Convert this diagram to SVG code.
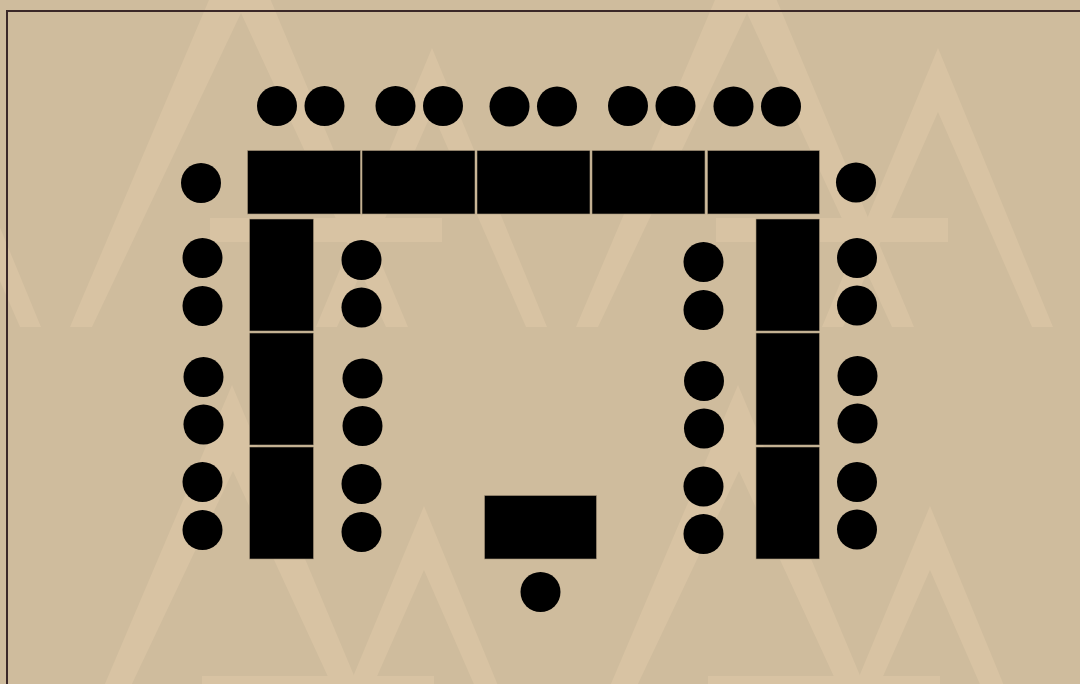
<svg xmlns="http://www.w3.org/2000/svg" width="1080" height="684" viewBox="0 0 1080 684">
<style>
.wm{fill:#d8c3a3}
.tb{fill:#000;stroke:#a8977c;stroke-width:.6}
.s{fill:#000}
</style>
<defs>
<g id="logo">
<path class="wm" d="M746-73 L576 327 L598 327 L747 13 L892 327 L914 327 Z"/>
<path class="wm" d="M938 48 L822 327 L843 327 L938 112 L1032 327 L1053 327 Z"/>
<rect class="wm" x="716" y="218" width="232" height="24"/>
</g>
<circle id="c" r="20" class="s"/>
</defs>
<rect width="1080" height="684" fill="#cfbc9d"/>
<g id="watermark">
<use href="#logo" x="-506"/><use href="#logo" x="0"/><use href="#logo" x="-1012"/><use href="#logo" x="506"/>
<use href="#logo" x="-514" y="458"/><use href="#logo" x="-8" y="458"/>
</g>
<rect id="frame" x="7" y="11" width="1080" height="680" fill="none" stroke="#3b2828" stroke-width="2"/>
<g id="tables">
<rect id="t1" class="tb" x="247.500" y="150.500" width="113" height="63.500"/>
<rect id="t2" class="tb" x="362" y="150.500" width="113" height="63.500"/>
<rect id="t3" class="tb" x="477" y="150.500" width="113" height="63.500"/>
<rect id="t4" class="tb" x="592" y="150.500" width="113" height="63.500"/>
<rect id="t5" class="tb" x="707.500" y="150.500" width="112" height="63.500"/>
<rect id="l1" class="tb" x="249.500" y="219" width="64" height="112"/>
<rect id="l2" class="tb" x="249.500" y="333" width="64" height="112"/>
<rect id="l3" class="tb" x="249.500" y="447" width="64" height="112"/>
<rect id="r1" class="tb" x="756" y="219" width="63.500" height="112"/>
<rect id="r2" class="tb" x="756" y="333" width="63.500" height="112"/>
<rect id="r3" class="tb" x="756" y="447" width="63.500" height="112"/>
<rect id="desk" class="tb" x="484.500" y="495.500" width="112" height="63.500"/>
</g>
<g id="seats-top">
<use href="#c" id="s1" x="277" y="106"/><use href="#c" id="s2" x="324.500" y="106"/>
<use href="#c" id="s3" x="395.500" y="106"/><use href="#c" id="s4" x="443" y="106"/>
<use href="#c" id="s5" x="509.500" y="106.500"/><use href="#c" id="s6" x="557" y="106.500"/>
<use href="#c" id="s7" x="628" y="106"/><use href="#c" id="s8" x="675.500" y="106"/>
<use href="#c" id="s9" x="733.500" y="106.500"/><use href="#c" id="s10" x="781" y="106.500"/>
</g>
<g id="seats-left-outer">
<use href="#c" id="s11" x="201" y="183"/><use href="#c" id="s12" x="202.500" y="258"/><use href="#c" id="s13" x="202.500" y="306"/>
<use href="#c" id="s14" x="203.500" y="377"/><use href="#c" id="s15" x="203.500" y="424.500"/>
<use href="#c" id="s16" x="202.500" y="482"/><use href="#c" id="s17" x="202.500" y="530"/>
</g>
<g id="seats-left-inner">
<use href="#c" id="s18" x="361.500" y="260"/><use href="#c" id="s19" x="361.500" y="307.500"/>
<use href="#c" id="s20" x="362.500" y="378.500"/><use href="#c" id="s21" x="362.500" y="426"/>
<use href="#c" id="s22" x="361.500" y="484"/><use href="#c" id="s23" x="361.500" y="532"/>
</g>
<g id="seats-right-inner">
<use href="#c" id="s24" x="703.500" y="262"/><use href="#c" id="s25" x="703.500" y="310"/>
<use href="#c" id="s26" x="704" y="381"/><use href="#c" id="s27" x="704" y="428.500"/>
<use href="#c" id="s28" x="703.500" y="486.500"/><use href="#c" id="s29" x="703.500" y="534"/>
</g>
<g id="seats-right-outer">
<use href="#c" id="s30" x="856" y="182.500"/><use href="#c" id="s31" x="857" y="258"/><use href="#c" id="s32" x="857" y="305.500"/>
<use href="#c" id="s33" x="857.500" y="376"/><use href="#c" id="s34" x="857.500" y="423.500"/>
<use href="#c" id="s35" x="857" y="482"/><use href="#c" id="s36" x="857" y="529.500"/>
</g>
<g id="seat-front"><use href="#c" id="s37" x="540.500" y="592"/></g>
</svg>
